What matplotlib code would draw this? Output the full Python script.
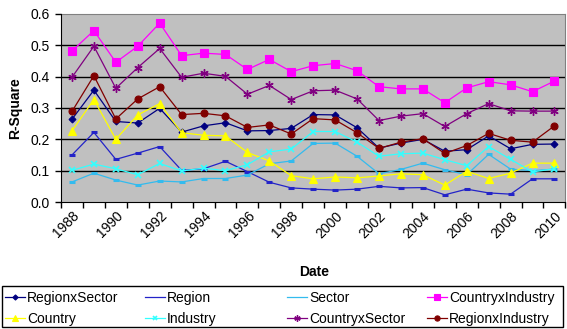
import matplotlib
matplotlib.use("Agg")
import matplotlib.pyplot as plt
from matplotlib.patches import Rectangle
from matplotlib.lines import Line2D
import numpy as np

plt.rcParams['font.family'] = ['Liberation Sans', 'DejaVu Sans']

years = list(range(1988, 2011))
year_labels = [str(y) for y in years[::2]]

regionx_sector = [0.264, 0.357, 0.257, 0.252, 0.299, 0.223, 0.243, 0.253, 0.227, 0.228, 0.235, 0.279,
                  0.278, 0.237, 0.172, 0.188, 0.200, 0.162, 0.167, 0.211, 0.170, 0.184, 0.185]
region = [0.150, 0.222, 0.136, 0.156, 0.177, 0.101, 0.106, 0.130, 0.097, 0.063, 0.045, 0.041,
          0.038, 0.041, 0.050, 0.045, 0.046, 0.023, 0.041, 0.029, 0.025, 0.074, 0.074]
sector = [0.064, 0.092, 0.070, 0.054, 0.067, 0.064, 0.075, 0.075, 0.086, 0.122, 0.131, 0.187,
          0.188, 0.146, 0.090, 0.104, 0.124, 0.103, 0.087, 0.152, 0.105, 0.100, 0.105]
countryx_industry = [0.482, 0.547, 0.446, 0.497, 0.571, 0.467, 0.475, 0.471, 0.423, 0.455, 0.416, 0.435,
                     0.442, 0.419, 0.368, 0.361, 0.361, 0.317, 0.364, 0.384, 0.374, 0.352, 0.386]
country = [0.227, 0.327, 0.200, 0.278, 0.314, 0.221, 0.213, 0.211, 0.158, 0.131, 0.084, 0.074,
           0.080, 0.077, 0.083, 0.090, 0.087, 0.054, 0.098, 0.075, 0.092, 0.124, 0.124]
industry = [0.101, 0.121, 0.106, 0.087, 0.123, 0.099, 0.108, 0.100, 0.119, 0.160, 0.169, 0.225,
            0.225, 0.191, 0.146, 0.154, 0.156, 0.135, 0.116, 0.177, 0.136, 0.096, 0.106]
countryx_sector = [0.398, 0.497, 0.363, 0.429, 0.490, 0.398, 0.411, 0.401, 0.344, 0.372, 0.327, 0.355,
                   0.357, 0.329, 0.260, 0.274, 0.282, 0.241, 0.282, 0.314, 0.291, 0.290, 0.290]
regionx_industry = [0.289, 0.403, 0.265, 0.329, 0.368, 0.279, 0.283, 0.275, 0.238, 0.246, 0.217, 0.266,
                    0.262, 0.221, 0.171, 0.191, 0.202, 0.155, 0.180, 0.219, 0.197, 0.191, 0.243]

series_names = ["RegionxSector", "Region", "Sector", "CountryxIndustry",
                "Country", "Industry", "CountryxSector", "RegionxIndustry"]
series_values = [regionx_sector, region, sector, countryx_industry,
                 country, industry, countryx_sector, regionx_industry]
styles = [
    dict(color="#000080", marker="D", ms=3.5),
    dict(color="#2323C8", marker="_", ms=4, mew=2.2),
    dict(color="#33BBEE", marker="_", ms=4, mew=2.2),
    dict(color="#FF00FF", marker="s", ms=5.5),
    dict(color="#FFFF00", marker="^", ms=5.5),
    dict(color="#33FFFF", marker="x", ms=4, mew=1.2),
    dict(color="#800080", marker=(6, 2, 0), ms=6, mew=1.0),
    dict(color="#800000", marker="o", ms=5),
]

W, H = 567, 329
fig = plt.figure(figsize=(W / 100, H / 100), dpi=100)
ax = fig.add_axes([61 / W, (H - 202) / H, (565.4 - 61) / W, (202 - 14) / H])
ax.set_facecolor("#C0C0C0")

x = np.arange(len(years))
handles = []
for name, vals, st in zip(series_names, series_values, styles):
    st = dict(st)
    c = st.pop("color")
    mew = st.pop("mew", 0.8)
    mk = st["marker"]
    ax.plot(x, vals, color=c, lw=0.9, mfc=c, mec=c, mew=mew, label=name,
            zorder=3, **st)
    # legend proxy (dash markers merge with the line in the legend)
    if mk == "_":
        h = Line2D([], [], color=c, lw=0.9, label=name)
    else:
        h = Line2D([], [], color=c, lw=0.9, marker=mk, ms=st["ms"] * 0.75,
                   mfc=c, mec=c, mew=mew, label=name)
    handles.append(h)

ax.set_xlim(-0.5, len(years) - 0.5)
ax.set_ylim(0, 0.6)
ax.set_yticks(np.arange(0, 0.61, 0.1))
ax.set_yticklabels([f"{v:.1f}" for v in np.arange(0, 0.61, 0.1)], fontsize=10)
for yv in np.arange(0.1, 0.55, 0.1):
    ax.axhline(yv, color="black", lw=1.0, zorder=1)

# category boundaries as tick marks, labels every 2 years at category centres
ax.set_xticks(np.arange(-0.5, len(years), 1.0))
ax.set_xticklabels([])
ax.set_xticks(x[::2], minor=True)
ax.set_xticklabels(year_labels, minor=True, rotation=45, ha="right", va="top",
                   rotation_mode="anchor", fontsize=10)
ax.tick_params(axis="x", which="minor", length=0, pad=5)
ax.tick_params(axis="x", which="major", length=4, direction="out", width=1)
ax.tick_params(axis="y", length=4, direction="out", width=1, pad=4)

for s in ["top", "right"]:
    ax.spines[s].set_color("#808080")
for s in ["left", "bottom"]:
    ax.spines[s].set_color("black")
ax.spines["left"].set_zorder(4)

ax.set_ylabel("R-Square", fontsize=10, fontweight="bold", labelpad=6)
fig.text(314 / W, 1 - 272 / H, "Date", fontsize=10, fontweight="bold",
         ha="center", va="center")

# legend: frame plus four equal-width columns
fig.patches.append(Rectangle((2 / W, (H - 327) / H), 561 / W, 41 / H,
                             transform=fig.transFigure, fill=False,
                             edgecolor="black", lw=1.0))
col_x = [5, 145, 287, 427]
for i, cx in enumerate(col_x):
    hs = [handles[i], handles[i + 4]]
    fig.legend(hs, [h.get_label() for h in hs], loc="center left",
               bbox_to_anchor=(cx / W, 1 - 308.5 / H), frameon=False,
               fontsize=10, handlelength=1.45, handletextpad=0.15,
               borderpad=0, borderaxespad=0, labelspacing=0.5)

fig.savefig("out.png", dpi=100)
